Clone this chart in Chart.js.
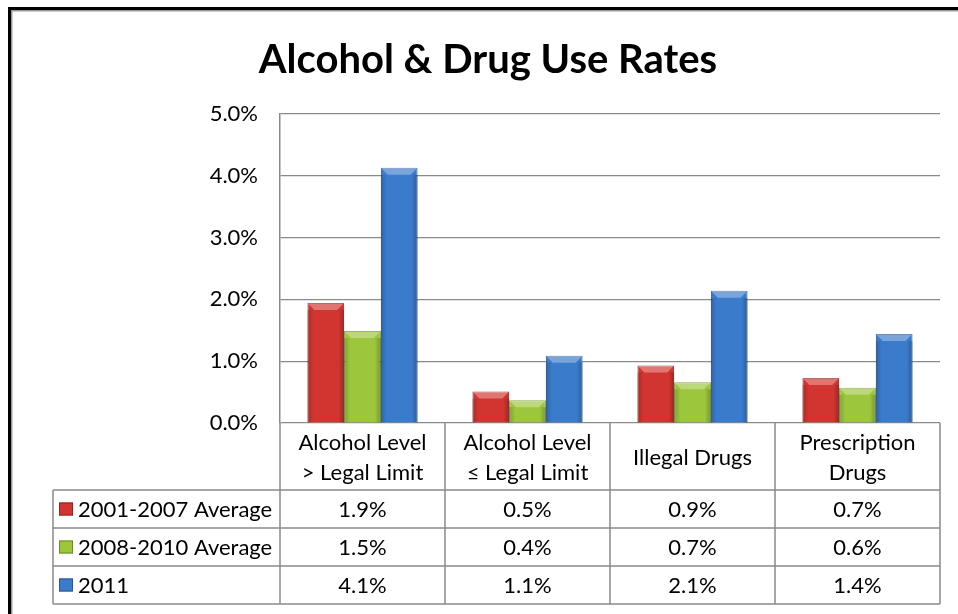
<!DOCTYPE html>
<html>
<head>
<meta charset="utf-8">
<title>Alcohol &amp; Drug Use Rates</title>
<script src="https://cdn.jsdelivr.net/npm/chart.js@4/dist/chart.umd.min.js"></script>
<style>
  html, body { margin: 0; padding: 0; background: #fff; }
  canvas { display: block; }
</style>
</head>
<body>
<canvas id="useChart" width="958" height="614"></canvas>
<script>
const categories = [["Alcohol Level", "> Legal Limit"], ["Alcohol Level", "≤ Legal Limit"], ["Illegal Drugs"], ["Prescription", "Drugs"]];
const seriesNames = ["2001-2007 Average", "2008-2010 Average", "2011"];
const avg2001to2007 = [1.94, 0.51, 0.93, 0.73];
const avg2008to2010 = [1.49, 0.37, 0.66, 0.57];
const rate2011 = [4.13, 1.09, 2.14, 1.44];
const yTicks = [0, 1, 2, 3, 4, 5];

const fillColors = ["#d2352f", "#9cc63b", "#3a7bcc"];
const edgeColors = ["#8f2521", "#6b8c25", "#2a5793"];
const fontFamily = "Lato, 'Open Sans', sans-serif";
const lineColor = "#8a8a8a";

const framePlugin = {
  id: "frame",
  beforeDraw(chart) {
    const ctx = chart.ctx;
    ctx.save();
    ctx.fillStyle = "#fff";
    ctx.fillRect(0, 0, chart.width, chart.height);
    ctx.fillStyle = "#000";
    ctx.fillRect(8, 7, chart.width - 8, 3);
    ctx.fillRect(8, 7, 3, chart.height - 7);
    ctx.fillStyle = "#9a9a9a";
    ctx.fillRect(11, 10, chart.width - 11, 1.5);
    ctx.fillRect(11, 10, 1.5, chart.height - 10);
    ctx.restore();
  }
};

// light top bevel and darker sides, like the Office 2007 bar style
const bevelPlugin = {
  id: "bevel",
  afterDatasetsDraw(chart) {
    const ctx = chart.ctx;
    chart.data.datasets.forEach((ds, i) => {
      chart.getDatasetMeta(i).data.forEach(bar => {
        const left = bar.x - bar.width / 2;
        const right = bar.x + bar.width / 2;
        const top = bar.y;
        const b = Math.min(7, (bar.base - bar.y) / 2);
        ctx.save();
        ctx.fillStyle = "rgba(255, 255, 255, 0.32)";
        ctx.beginPath();
        ctx.moveTo(left, top);
        ctx.lineTo(right, top);
        ctx.lineTo(right - b, top + b);
        ctx.lineTo(left + b, top + b);
        ctx.closePath();
        ctx.fill();
        const grad = ctx.createLinearGradient(left, 0, right, 0);
        grad.addColorStop(0, "rgba(0, 0, 0, 0.2)");
        grad.addColorStop(0.16, "rgba(0, 0, 0, 0)");
        grad.addColorStop(0.84, "rgba(0, 0, 0, 0)");
        grad.addColorStop(1, "rgba(0, 0, 0, 0.25)");
        ctx.fillStyle = grad;
        ctx.fillRect(left, top + b, right - left, bar.base - top - b);
        ctx.restore();
      });
    });
  }
};

const tablePlugin = {
  id: "dataTable",
  afterDraw(chart) {
    const ctx = chart.ctx;
    const xScale = chart.scales.x;
    const area = chart.chartArea;
    const colW = xScale.width / categories.length;
    const tableLeft = 53;
    const headerH = 67;
    const rowH = 38;
    const top = area.bottom;
    const bottom = top + headerH + rowH * seriesNames.length;

    function line(x1, y1, x2, y2) {
      ctx.beginPath();
      ctx.moveTo(x1, y1);
      ctx.lineTo(x2, y2);
      ctx.stroke();
    }

    ctx.save();
    ctx.strokeStyle = lineColor;
    ctx.lineWidth = 1.5;
    for (let i = 0; i <= categories.length; i++) {
      const vx = xScale.getPixelForValue(0) - colW / 2 + colW * i;
      line(vx, top, vx, bottom);
    }
    line(tableLeft, top + headerH, tableLeft, bottom);
    for (let r = 0; r <= seriesNames.length; r++) {
      const hy = top + headerH + rowH * r;
      line(tableLeft, hy, area.right, hy);
    }

    ctx.fillStyle = "#000";
    ctx.font = "22px " + fontFamily;
    ctx.textAlign = "center";
    ctx.textBaseline = "middle";
    categories.forEach((lines, i) => {
      const cx = xScale.getPixelForValue(i);
      const cy = top + headerH / 2;
      lines.forEach((txt, k) => {
        ctx.fillText(txt, cx, cy + 1 + (k - (lines.length - 1) / 2) * 30);
      });
    });

    const seriesData = [avg2001to2007, avg2008to2010, rate2011];
    seriesNames.forEach((name, r) => {
      const cy = top + headerH + rowH * r + rowH / 2;
      ctx.fillStyle = fillColors[r];
      ctx.fillRect(59, cy - 6.5, 14, 13);
      ctx.strokeStyle = edgeColors[r];
      ctx.lineWidth = 1;
      ctx.strokeRect(59.5, cy - 6, 13, 12);
      ctx.fillStyle = "#000";
      ctx.textAlign = "left";
      ctx.fillText(name, 78, cy + 1);
      ctx.textAlign = "center";
      seriesData[r].forEach((v, i) => {
        ctx.fillText(v.toFixed(1) + "%", xScale.getPixelForValue(i), cy + 1);
      });
    });
    ctx.restore();
  }
};

const ctx = document.getElementById("useChart").getContext("2d");

new Chart(ctx, {
  type: "bar",
  data: {
    labels: categories.map(c => c.join(" ")),
    datasets: seriesNames.map((name, i) => ({
      label: name,
      data: [avg2001to2007, avg2008to2010, rate2011][i],
      backgroundColor: fillColors[i],
      borderColor: edgeColors[i],
      borderWidth: 1,
      categoryPercentage: 0.667,
      barPercentage: 1,
    })),
  },
  options: {
    responsive: false,
    animation: false,
    layout: {
      padding: { left: 36, right: 18, top: 14, bottom: 191 },
    },
    scales: {
      x: {
        display: false,
      },
      y: {
        min: 0,
        max: 5,
        afterBuildTicks: scale => {
          scale.ticks = yTicks.map(v => ({ value: v }));
        },
        afterFit: scale => {
          scale.width = 244;
        },
        border: { display: true, color: lineColor, width: 1.5 },
        grid: { color: lineColor, lineWidth: 1.2, drawTicks: false },
        ticks: {
          padding: 22,
          color: "#000",
          font: { family: fontFamily, size: 22 },
          callback: v => v.toFixed(1) + "%",
        },
      },
    },
    plugins: {
      legend: { display: false },
      tooltip: { enabled: false },
      title: {
        display: true,
        text: "Alcohol & Drug Use Rates",
        color: "#000",
        font: { family: fontFamily, size: 40, weight: "bold" },
        padding: { top: 22, bottom: 30 },
      },
    },
  },
  plugins: [framePlugin, bevelPlugin, tablePlugin],
});
</script>
</body>
</html>
